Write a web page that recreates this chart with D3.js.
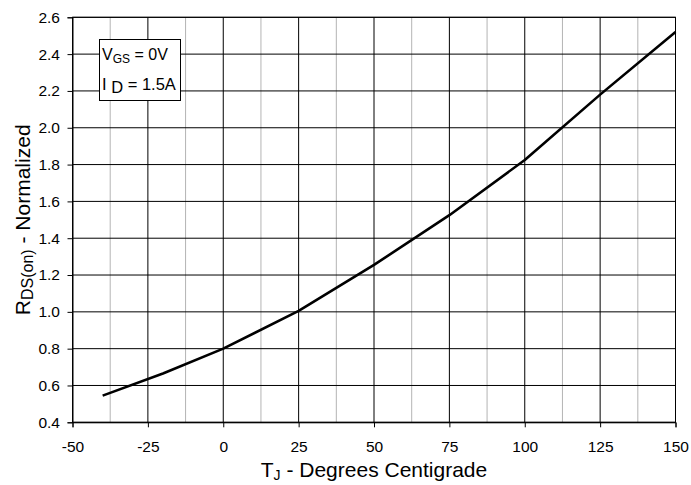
<!DOCTYPE html>
<html>
<head>
<meta charset="utf-8">
<script src="https://cdn.jsdelivr.net/npm/d3@7"></script>
<style>
  html, body { margin: 0; padding: 0; background: #fff; }
  svg text { font-family: "Liberation Sans", Arial, sans-serif; fill: #000; }
</style>
</head>
<body>
<svg id="chart" width="691" height="485"></svg>
<script>
// Data
const tempC = [-40, -20, 0, 25, 50, 75, 100, 125, 150];
const rdsNorm = [0.545, 0.665, 0.80, 1.005, 1.255, 1.525, 1.825, 2.18, 2.52];
const xTicks = [-50, -25, 0, 25, 50, 75, 100, 125, 150];
const xMinorTicks = [-37.5, -12.5, 12.5, 37.5, 62.5, 87.5, 112.5, 137.5];
const yTicks = [0.4, 0.6, 0.8, 1.0, 1.2, 1.4, 1.6, 1.8, 2.0, 2.2, 2.4, 2.6];

const svg = d3.select("#chart");
const W = 691, H = 485;
const m = { left: 72.5, right: W - 675.5, top: 17.3, bottom: H - 422.3 };
const FONT = '"Liberation Sans", Arial, sans-serif';

const x = d3.scaleLinear().domain([-50, 150]).range([m.left, W - m.right]);
const y = d3.scaleLinear().domain([0.4, 2.6]).range([H - m.bottom, m.top]);

// minor vertical gridlines
svg.append("g").selectAll("line").data(xMinorTicks).join("line")
  .attr("x1", d => x(d)).attr("x2", d => x(d))
  .attr("y1", y(0.4)).attr("y2", y(2.6))
  .attr("stroke", "#b4b4b4").attr("stroke-width", 1);

// major vertical gridlines
svg.append("g").selectAll("line").data(xTicks).join("line")
  .attr("x1", d => x(d)).attr("x2", d => x(d))
  .attr("y1", y(0.4)).attr("y2", y(2.6))
  .attr("stroke", "#000").attr("stroke-width", 1);

// horizontal gridlines
svg.append("g").selectAll("line").data(yTicks).join("line")
  .attr("x1", x(-50)).attr("x2", x(150))
  .attr("y1", d => y(d)).attr("y2", d => y(d))
  .attr("stroke", "#000").attr("stroke-width", 1);

// axes
const xAxis = d3.axisBottom(x).tickValues(xTicks).tickSize(5).tickPadding(14)
  .tickFormat(d => String(d));
const gx = svg.append("g").attr("transform", `translate(0,${y(0.4)})`).call(xAxis);
gx.select(".domain").attr("stroke", "#000");
gx.selectAll("line").attr("stroke", "#000");
gx.selectAll("text").attr("font-size", 15.5).attr("font-family", FONT).attr("fill", "#000");

const yAxis = d3.axisLeft(y).tickValues(yTicks).tickSize(5).tickPadding(7.5)
  .tickFormat(d3.format(".1f"));
const gy = svg.append("g").attr("transform", `translate(${x(-50)},0)`).call(yAxis);
gy.select(".domain").attr("stroke", "#000");
gy.selectAll("line").attr("stroke", "#000");
gy.selectAll("text").attr("font-size", 15.5).attr("font-family", FONT).attr("fill", "#000");

// plot border
svg.append("rect")
  .attr("x", x(-50)).attr("y", y(2.6))
  .attr("width", x(150) - x(-50)).attr("height", y(0.4) - y(2.6))
  .attr("fill", "none").attr("stroke", "#000").attr("stroke-width", 1);

// curve
const pts = tempC.map((t, i) => [t, rdsNorm[i]]);
svg.append("path").datum(pts)
  .attr("fill", "none").attr("stroke", "#000").attr("stroke-width", 2.6)
  .attr("stroke-linejoin", "round")
  .attr("d", d3.line().x(d => x(d[0])).y(d => y(d[1])));

// legend box
const lg = svg.append("g");
lg.append("rect").attr("x", 99.5).attr("y", 39.5).attr("width", 81).attr("height", 61)
  .attr("fill", "#fff").attr("stroke", "#000").attr("stroke-width", 1);
const t1 = lg.append("text").attr("x", 102).attr("y", 60).attr("font-size", 16);
t1.append("tspan").text("V");
t1.append("tspan").attr("font-size", 12).attr("dy", 3).text("GS");
t1.append("tspan").attr("dy", -3).text(" = 0V");
const t2 = lg.append("text").attr("x", 102).attr("y", 90).attr("font-size", 16.5);
t2.append("tspan").text("I ");
t2.append("tspan").attr("dy", 3).text("D");
t2.append("tspan").attr("dy", -3).text(" = 1.5A");

// axis titles
const xt = svg.append("text").attr("x", (x(-50) + x(150)) / 2).attr("y", 477)
  .attr("text-anchor", "middle").attr("font-size", 21);
xt.append("tspan").text("T");
xt.append("tspan").attr("font-size", 14).attr("dy", 3).text("J");
xt.append("tspan").attr("dy", -3).text(" - Degrees Centigrade");

const yt = svg.append("text")
  .attr("transform", `translate(29.5,${(y(0.4) + y(2.6)) / 2}) rotate(-90)`)
  .attr("text-anchor", "middle").attr("font-size", 21);
yt.append("tspan").text("R");
yt.append("tspan").attr("font-size", 16).attr("dy", 3).text("DS(on)");
yt.append("tspan").attr("dy", -3).text(" - Normalized");
</script>
</body>
</html>
